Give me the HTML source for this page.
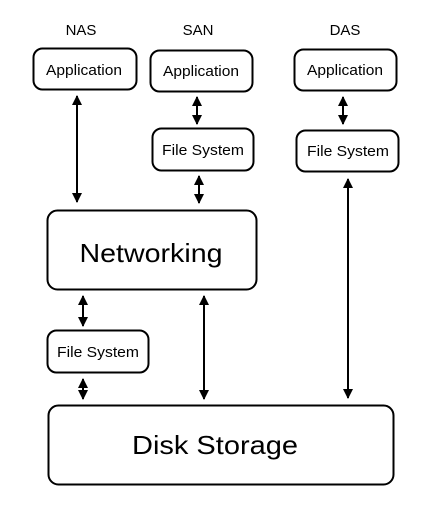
<!DOCTYPE html>
<html><head><style>html,body{margin:0;padding:0;background:#fff}</style></head>
<body>
<svg width="435" height="509" viewBox="0 0 435 509" xmlns="http://www.w3.org/2000/svg" font-family="Liberation Sans, Arial, sans-serif" fill="#000">
<defs>
<marker id="a" viewBox="0 0 10 10" refX="9" refY="5" markerWidth="5" markerHeight="5" orient="auto-start-reverse"><path d="M0,0 L10,5 L0,10 z"/></marker>
</defs>
<g fill="none" stroke="#000" stroke-width="2">
<rect x="33.5" y="48.5" width="103" height="41" rx="9"/>
<rect x="150.5" y="50.5" width="102" height="41" rx="9"/>
<rect x="294.5" y="49.5" width="102" height="41" rx="9"/>
<rect x="152.5" y="128.5" width="101" height="42" rx="9"/>
<rect x="296.5" y="130.5" width="102" height="41" rx="9"/>
<rect x="47.5" y="210.5" width="209" height="79" rx="10"/>
<rect x="47.5" y="330.5" width="101" height="42" rx="9"/>
<rect x="48.5" y="405.5" width="345" height="79" rx="10"/>
</g>
<g stroke="#000" stroke-width="2" marker-start="url(#a)" marker-end="url(#a)">
<line x1="77" y1="96" x2="77" y2="202"/>
<line x1="197" y1="97" x2="197" y2="124"/>
<line x1="199" y1="176" x2="199" y2="203"/>
<line x1="343" y1="97" x2="343" y2="124"/>
<line x1="348" y1="179" x2="348" y2="398"/>
<line x1="83" y1="296" x2="83" y2="326"/>
<line x1="83" y1="379" x2="83" y2="399"/>
<line x1="204" y1="296" x2="204" y2="399"/>
</g>
<g font-size="15" text-anchor="middle">
<text x="81" y="35">NAS</text>
<text x="198" y="35">SAN</text>
<text x="345" y="35">DAS</text>
<text x="84" y="75" textLength="76" lengthAdjust="spacingAndGlyphs">Application</text>
<text x="201" y="76" textLength="76" lengthAdjust="spacingAndGlyphs">Application</text>
<text x="345" y="75" textLength="76" lengthAdjust="spacingAndGlyphs">Application</text>
<text x="203" y="155" textLength="82" lengthAdjust="spacingAndGlyphs">File System</text>
<text x="348" y="156" textLength="82" lengthAdjust="spacingAndGlyphs">File System</text>
<text x="98" y="357" textLength="82" lengthAdjust="spacingAndGlyphs">File System</text>
<text x="151" y="262" font-size="26" textLength="143" lengthAdjust="spacingAndGlyphs">Networking</text>
<text x="215" y="454" font-size="26" textLength="166" lengthAdjust="spacingAndGlyphs">Disk Storage</text>
</g>
</svg>
</body></html>
